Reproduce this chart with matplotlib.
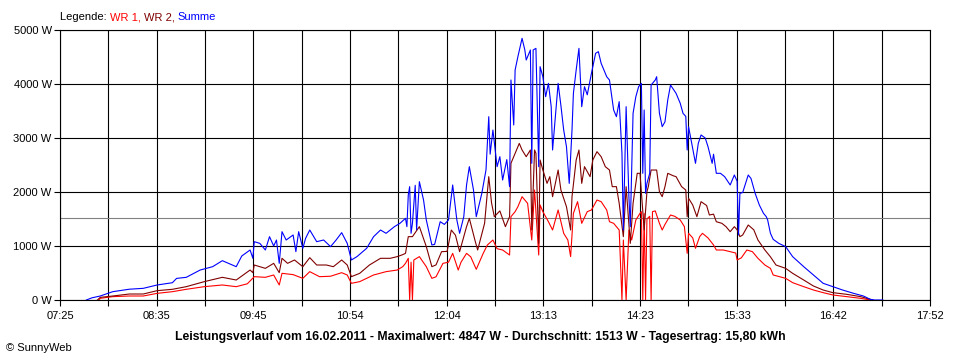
import numpy as np
import matplotlib.pyplot as plt

plt.rcParams['font.family'] = ['Liberation Sans', 'DejaVu Sans']

# Summe (blue)
summe_time = [
    "07:44", "07:48", "07:54", "08:03", "08:15", "08:25", "08:35", "08:46", "08:49", "08:56",
    "09:06", "09:15", "09:22", "09:32", "09:36", "09:42", "09:44", "09:45", "09:49", "09:53",
    "09:56", "09:59", "10:01", "10:03", "10:05", "10:08", "10:13", "10:15", "10:17", "10:20",
    "10:22", "10:25", "10:30", "10:35", "10:40", "10:44", "10:48", "10:52", "10:55", "10:59",
    "11:06", "11:11", "11:16", "11:20", "11:26", "11:30", "11:34", "11:35", "11:36", "11:37",
    "11:38", "11:39", "11:41", "11:42", "11:44", "11:47", "11:49", "11:53", "11:55", "11:59",
    "12:02", "12:05", "12:08", "12:11", "12:13", "12:16", "12:18", "12:20", "12:23", "12:25",
    "12:29", "12:32", "12:34", "12:35", "12:37", "12:40", "12:42", "12:44", "12:47", "12:49",
    "12:50", "12:52", "12:53", "12:55", "12:58", "13:00", "13:01", "13:04", "13:05", "13:06",
    "13:08", "13:10", "13:11", "13:13", "13:15", "13:17", "13:19", "13:20", "13:22", "13:24",
    "13:26", "13:28", "13:30", "13:32", "13:34", "13:35", "13:37", "13:39", "13:41", "13:43",
    "13:45", "13:48", "13:51", "13:53", "13:55", "13:59", "14:01", "14:04", "14:06", "14:08",
    "14:10", "14:11", "14:13", "14:15", "14:16", "14:18", "14:20", "14:22", "14:24", "14:25",
    "14:26", "14:27", "14:28", "14:30", "14:31", "14:34", "14:35", "14:37", "14:39", "14:41",
    "14:43", "14:45", "14:49", "14:52", "14:54", "14:56", "14:57", "14:58", "15:03", "15:05",
    "15:07", "15:10", "15:12", "15:15", "15:16", "15:18", "15:21", "15:24", "15:28", "15:31",
    "15:33", "15:34", "15:35", "15:37", "15:41", "15:43", "15:46", "15:49", "15:52", "15:54",
    "15:55", "15:57", "15:59", "16:03", "16:08", "16:13", "16:21", "16:28", "16:35", "16:42",
    "16:49", "16:57", "17:04", "17:09", "17:12", "17:18"]
summe_w = [
    0, 40, 74, 154, 200, 216, 278, 320, 400, 420,
    555, 617, 728, 617, 815, 926, 772, 1080, 1049, 926,
    1173, 1000, 1111, 679, 1265, 1111, 1204, 895, 1265, 957,
    1142, 1296, 1080, 1111, 988, 1111, 1247, 1049, 741, 803,
    957, 1173, 1296, 1235, 1358, 1420, 1512, 1358, 1944, 2099,
    1235, 1420, 2124, 1300, 2191, 1852, 1482, 1019, 1030, 1450,
    1400, 1482, 2130, 1482, 1235, 1543, 2130, 2469, 2037, 1543,
    1976, 2407, 3395, 2700, 3148, 2469, 2654, 2222, 2600, 2099,
    4074, 3241, 4259, 4506, 4846, 4630, 4444, 4630, 2531, 4630,
    4660, 2469, 4321, 4135, 3765, 4012, 3580, 2778, 3395, 4012,
    3600, 3148, 2840, 2160, 3148, 3827, 4259, 4660, 3580, 3950,
    3800, 4197, 4568, 4599, 4383, 4135, 4074, 3519, 3395, 3673,
    2716, 1296, 3580, 1913, 1358, 3457, 3765, 3950, 4012, 2346,
    3519, 1975, 2160, 2346, 3981, 4074, 4135, 3457, 3210, 3300,
    3704, 3981, 3827, 3642, 3457, 3400, 2778, 3210, 2531, 2901,
    3056, 3000, 2840, 2531, 2700, 2346, 2346, 2284, 2130, 2315,
    2200, 1204, 1975, 1990, 2315, 2250, 1975, 1759, 1605, 1543,
    1482, 1235, 1123, 1049, 988, 803, 617, 463, 309, 247,
    185, 123, 74, 12, 0, 0]

# WR 2 (dark red)
wr2_time = [
    "07:52", "07:54", "08:03", "08:15", "08:25", "08:35", "08:46", "08:56", "09:09", "09:22",
    "09:32", "09:42", "09:44", "09:45", "09:53", "09:59", "10:03", "10:05", "10:09", "10:14",
    "10:20", "10:25", "10:30", "10:37", "10:42", "10:48", "10:52", "10:55", "11:01", "11:08",
    "11:16", "11:23", "11:28", "11:32", "11:34", "11:36", "11:39", "11:44", "11:49", "11:53",
    "11:56", "12:00", "12:04", "12:07", "12:10", "12:13", "12:18", "12:20", "12:24", "12:26",
    "12:31", "12:34", "12:36", "12:38", "12:42", "12:46", "12:49", "12:50", "12:53", "12:56",
    "12:58", "13:01", "13:04", "13:05", "13:07", "13:08", "13:10", "13:11", "13:13", "13:16",
    "13:18", "13:20", "13:24", "13:26", "13:30", "13:33", "13:34", "13:37", "13:39", "13:41",
    "13:43", "13:47", "13:49", "13:52", "13:55", "13:58", "14:01", "14:03", "14:06", "14:08",
    "14:11", "14:13", "14:16", "14:18", "14:21", "14:23", "14:26", "14:28", "14:29", "14:31",
    "14:35", "14:37", "14:39", "14:41", "14:43", "14:47", "14:49", "14:53", "14:56", "14:57",
    "14:58", "15:01", "15:04", "15:07", "15:11", "15:13", "15:16", "15:18", "15:22", "15:25",
    "15:28", "15:31", "15:33", "15:35", "15:37", "15:41", "15:45", "15:48", "15:53", "15:57",
    "16:01", "16:08", "16:13", "16:21", "16:28", "16:35", "16:42", "16:52", "17:02", "17:09",
    "17:11"]
wr2_w = [
    0, 49, 74, 111, 111, 173, 198, 247, 340, 420,
    370, 555, 506, 648, 586, 679, 506, 772, 679, 741,
    617, 784, 648, 648, 617, 741, 648, 432, 494, 648,
    772, 772, 803, 840, 864, 1173, 1173, 1358, 988, 617,
    650, 895, 900, 1296, 1200, 895, 1358, 1512, 1111, 926,
    1420, 2284, 1800, 1543, 1650, 1358, 1543, 2531, 2716, 2900,
    2778, 2654, 2778, 1296, 2778, 2716, 1049, 2593, 2407, 2160,
    2284, 1913, 2407, 2037, 1728, 1296, 1913, 2593, 2778, 2160,
    2469, 2284, 2593, 2747, 2654, 2469, 2407, 2099, 2099, 1790,
    1173, 2099, 1049, 1790, 2346, 2346, 1296, 2006, 2099, 2407,
    2407, 2006, 1913, 2100, 2346, 2300, 2284, 2099, 2037, 1543,
    1883, 1759, 1543, 1821, 1750, 1574, 1590, 1450, 1420, 1358,
    1265, 1358, 1300, 1173, 1204, 1389, 1300, 1111, 926, 800,
    648, 586, 494, 370, 259, 185, 136, 105, 62, 12,
    0]

# WR 1 (red)
wr1_time = [
    "07:53", "07:54", "08:03", "08:15", "08:25", "08:35", "08:46", "08:56", "09:09", "09:22",
    "09:32", "09:40", "09:45", "09:53", "09:59", "10:03", "10:05", "10:13", "10:20", "10:25",
    "10:32", "10:40", "10:48", "10:52", "10:55", "11:01", "11:11", "11:20", "11:28", "11:32",
    "11:34", "11:36", "11:37", "11:38", "11:39", "11:40", "11:44", "11:49", "11:53", "11:56",
    "12:01", "12:05", "12:08", "12:12", "12:14", "12:18", "12:21", "12:25", "12:30", "12:33",
    "12:37", "12:40", "12:44", "12:49", "12:50", "12:53", "12:55", "12:58", "13:00", "13:02",
    "13:05", "13:07", "13:10", "13:11", "13:13", "13:17", "13:20", "13:24", "13:28", "13:31",
    "13:33", "13:35", "13:38", "13:41", "13:45", "13:48", "13:52", "13:55", "13:59", "14:01",
    "14:04", "14:08", "14:10", "14:11", "14:13", "14:15", "14:17", "14:20", "14:23", "14:24",
    "14:25", "14:26", "14:27", "14:28", "14:30", "14:31", "14:32", "14:34", "14:37", "14:39",
    "14:41", "14:45", "14:48", "14:52", "14:55", "14:57", "14:58", "15:01", "15:03", "15:06",
    "15:08", "15:12", "15:16", "15:18", "15:23", "15:28", "15:32", "15:33", "15:36", "15:40",
    "15:44", "15:48", "15:53", "15:57", "15:59", "16:08", "16:13", "16:21", "16:28", "16:35",
    "16:42", "16:52", "17:02", "17:09"]
wr1_w = [
    0, 31, 62, 74, 74, 123, 154, 198, 247, 278,
    247, 300, 432, 420, 463, 278, 494, 470, 401, 525,
    432, 440, 506, 463, 309, 340, 463, 525, 555, 617,
    679, 772, 0, 700, 0, 741, 803, 617, 401, 430,
    679, 700, 864, 555, 700, 864, 800, 568, 864, 1019,
    1111, 950, 926, 833, 1543, 1636, 1728, 1913, 1850, 1790,
    1111, 2037, 833, 1760, 1636, 1450, 1296, 1667, 1235, 1111,
    803, 1605, 1821, 1420, 1636, 1667, 1852, 1821, 1667, 1450,
    1420, 1296, 0, 1111, 0, 1296, 1111, 1482, 1605, 1636,
    0, 1600, 0, 1500, 1550, 0, 1636, 1650, 1420, 1296,
    1400, 1574, 1550, 1482, 1358, 864, 1235, 1150, 957, 1173,
    1235, 1150, 1019, 926, 926, 895, 870, 741, 780, 926,
    895, 772, 648, 586, 463, 401, 321, 247, 185, 136,
    93, 62, 31, 0]

average_w = 1513
y_ticks = [0, 1000, 2000, 3000, 4000, 5000]
x_labels = ["07:25", "08:35", "09:45", "10:54", "12:04",
            "13:13", "14:23", "15:33", "16:42", "17:52"]
legend_parts = [("Legende: ", 'black'), ("WR 1, ", '#ff0000'),
                ("WR 2, ", '#800000'), ("Summe", '#0000ff')]
title = ("Leistungsverlauf vom 16.02.2011 - Maximalwert: 4847 W - "
         "Durchschnitt: 1513 W - Tagesertrag: 15,80 kWh")


def to_min(times):
    return [int(s[:2]) * 60 + int(s[3:]) for s in times]


fig = plt.figure(figsize=(9.6, 3.6), dpi=100)
ax = fig.add_axes([60 / 960, 60 / 360, 870 / 960, 270 / 360])

ax.plot(to_min(wr1_time), wr1_w, color='#ff0000', lw=0.8, zorder=3)
ax.plot(to_min(wr2_time), wr2_w, color='#800000', lw=0.8, zorder=4)
ax.plot(to_min(summe_time), summe_w, color='#0000ff', lw=0.8, zorder=5)
ax.axhline(average_w, color='#808080', lw=0.8, zorder=2)

start, end = to_min([x_labels[0], x_labels[-1]])
grid_x = np.linspace(start, end, 19)
ax.set_xlim(start, end)
ax.set_ylim(0, 5000)
ax.set_xticks(grid_x)
ax.set_xticklabels([x_labels[i // 2] if i % 2 == 0 else "" for i in range(19)])
ax.set_yticks(y_ticks)
ax.set_yticklabels([f"{v} W" for v in y_ticks])
ax.grid(True, color='black', lw=0.8)
ax.set_axisbelow(True)
ax.tick_params(direction='out', length=4, width=0.8, color='black',
               labelsize=8, pad=2)
ax.tick_params(axis='x', pad=4)
for sp in ax.spines.values():
    sp.set_color('black')
    sp.set_linewidth(0.8)

# coloured legend text, each piece placed right after the previous one
txt, col = legend_parts[0]
prev = fig.text(60 / 960, 1 - 17 / 360, txt, fontsize=8, color=col, va='center')
for txt, col in legend_parts[1:]:
    prev = ax.annotate(txt, xycoords=prev, xy=(1, 0.5), va='center',
                       fontsize=8, color=col, annotation_clip=False)

fig.text(0.5, 1 - 337 / 360, title, fontsize=8.8, fontweight='bold',
         ha='center', va='center')
fig.text(6 / 960, 1 - 348 / 360, "© SunnyWeb", fontsize=8, va='center')

fig.savefig('out.png', dpi=100)
